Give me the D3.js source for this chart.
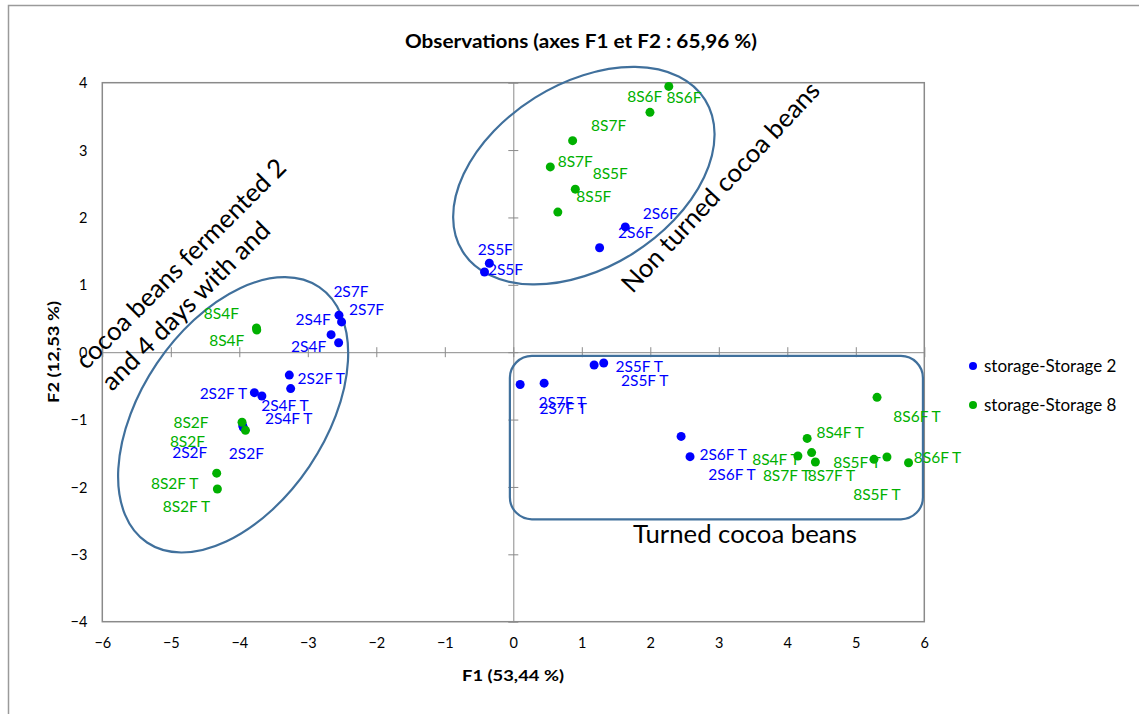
<!DOCTYPE html>
<html>
<head>
<meta charset="utf-8">
<script src="https://cdn.jsdelivr.net/npm/d3@7"></script>
<style>
  body { margin: 0; background: #fff; }
  svg { display: block; }
  text { font-family: Lato, "Liberation Sans", sans-serif; }
</style>
</head>
<body>
<svg id="chart" width="1139" height="714"></svg>
<script>
// ---- data ----
const xTicks = [-6, -5, -4, -3, -2, -1, 0, 1, 2, 3, 4, 5, 6];
const yTicks = [-4, -3, -2, -1, 0, 1, 2, 3, 4];
const seriesNames = ["storage-Storage 2", "storage-Storage 8"];

const storage2Labels = ["2S7F","2S7F","2S4F","2S4F","2S2F T","2S2F T","2S4F T","2S4F T","2S2F","2S2F",
  "2S5F","2S5F","2S6F","2S6F","2S5F T","2S5F T","2S7F T","2S7F T","2S6F T","2S6F T"];
const storage2F1 = [-2.545,-2.507,-2.66,-2.55,-3.27,-3.78,-3.67,-3.25,-3.94,-3.95,
  -0.35,-0.42,1.635,1.26,1.18,1.32,0.10,0.45,2.45,2.58];
const storage2F2 = [0.55,0.45,0.26,0.14,-0.34,-0.60,-0.65,-0.54,-1.12,-1.09,
  1.32,1.19,1.86,1.55,-0.19,-0.16,-0.48,-0.46,-1.25,-1.55];

const storage8Labels = ["8S4F","8S4F","8S2F","8S2F","8S2F T","8S2F T","8S6F","8S6F","8S7F","8S7F",
  "8S5F","8S5F","8S6F T","8S6F T","8S4F T","8S4F T","8S7F T","8S7F T","8S5F T","8S5F T"];
const storage8F1 = [-3.75,-3.745,-3.96,-3.91,-4.33,-4.32,2.27,1.995,0.866,0.54,
  0.905,0.65,5.31,5.77,4.29,4.155,4.355,4.41,5.265,5.455];
const storage8F2 = [0.36,0.33,-1.04,-1.16,-1.795,-2.03,3.945,3.56,3.14,2.75,
  2.42,2.08,-0.67,-1.64,-1.28,-1.54,-1.49,-1.63,-1.59,-1.555];

// ---- layout (label offsets in px, not data) ----
const offsets2 = [[12,-24],[25,-12],[-18,-15],[-30,4],[32,3],[-31,1],[23,10],[-2,30],[3,26],[-53,27],
  [6,-14],[21,-2],[35,-13],[36,-15],[45,2],[41,18],[42,18],[19,25],[42,18],[42,18]];
const offsets8 = [[-35,-14],[-30,11],[-51,0],[-58,11],[-42,10],[-31,18],[-24,10],[34,-15],[36,-15],[25,-5],
  [35,-16],[36,-15],[40,19],[29,-5],[33,-6],[-22,4],[-25,23],[16,14],[-17,3],[-10,38]];

const colors = ["#0000ff", "#00b000"];
const shapeStroke = "#40709c";
const axisGray = "#8a8a8a";

const svg = d3.select("#chart");

// outer chart border
svg.append("rect").attr("x", 8.5).attr("y", 5.5).attr("width", 1200).attr("height", 800)
  .attr("fill", "none").attr("stroke", "#9a9a9a").attr("stroke-width", 1.5);

const x = d3.scaleLinear().domain([-6, 6]).range([102.3, 924.3]);
const y = d3.scaleLinear().domain([-4, 4]).range([621.7, 82.7]);

// plot border
svg.append("rect").attr("x", x(-6)).attr("y", y(4)).attr("width", x(6) - x(-6)).attr("height", y(-4) - y(4))
  .attr("fill", "none").attr("stroke", axisGray).attr("stroke-width", 1.5);

// zero axes with ticks
const gx = svg.append("g").attr("transform", `translate(0,${y(0)})`)
  .call(d3.axisBottom(x).tickValues(xTicks).tickSizeInner(10).tickSizeOuter(0).tickFormat(""));
gx.selectAll(".tick line").attr("transform", "translate(0,-5)");
const gy = svg.append("g").attr("transform", `translate(${x(0)},0)`)
  .call(d3.axisLeft(y).tickValues(yTicks).tickSizeInner(10).tickSizeOuter(0).tickFormat(""));
gy.selectAll(".tick line").attr("transform", "translate(5,0)");
[gx, gy].forEach(g => {
  g.select(".domain").attr("stroke", axisGray).attr("stroke-width", 1);
  g.selectAll(".tick line").attr("stroke", axisGray).attr("stroke-width", 1);
});

// tick labels on the plot frame
const gxl = svg.append("g").attr("transform", `translate(0,${y(-4)})`)
  .call(d3.axisBottom(x).tickValues(xTicks).tickSize(0).tickPadding(23).tickFormat(d3.format("d")));
gxl.select(".domain").remove();
const gyl = svg.append("g").attr("transform", `translate(${x(-6)},0)`)
  .call(d3.axisLeft(y).tickValues(yTicks).tickSize(0).tickPadding(15).tickFormat(d3.format("d")));
gyl.select(".domain").remove();
[gxl, gyl].forEach(g => g.selectAll("text")
  .attr("font-family", "Lato, 'Liberation Sans', sans-serif").attr("font-size", 14.5).attr("fill", "#000"));
gxl.selectAll("text").attr("dy", "0.2em");
gyl.selectAll("text").attr("dy", "0.35em");

// titles
svg.append("text").attr("x", 581).attr("y", 48).attr("text-anchor", "middle")
  .attr("font-size", 18).attr("font-weight", "bold").attr("textLength", 352).attr("lengthAdjust", "spacingAndGlyphs")
  .text("Observations (axes F1 et F2 : 65,96 %)");
svg.append("text").attr("x", 513).attr("y", 681).attr("text-anchor", "middle")
  .attr("font-size", 16).attr("font-weight", "bold").attr("textLength", 102).attr("lengthAdjust", "spacingAndGlyphs")
  .text("F1 (53,44 %)");
svg.append("text").attr("transform", "translate(59,352) rotate(-90)").attr("text-anchor", "middle")
  .attr("font-size", 16).attr("font-weight", "bold").attr("textLength", 102).attr("lengthAdjust", "spacingAndGlyphs")
  .text("F2 (12,53 %)");

// annotation shapes
svg.append("ellipse").attr("cx", x(-4.09)).attr("cy", y(-0.93)).attr("rx", 154).attr("ry", 92)
  .attr("transform", `rotate(-56,${x(-4.09)},${y(-0.93)})`)
  .attr("fill", "none").attr("stroke", shapeStroke).attr("stroke-width", 2.2);
svg.append("ellipse").attr("cx", x(1.03)).attr("cy", y(2.62)).attr("rx", 143).attr("ry", 92)
  .attr("transform", `rotate(-32,${x(1.03)},${y(2.62)})`)
  .attr("fill", "none").attr("stroke", shapeStroke).attr("stroke-width", 2.2);
svg.append("rect").attr("x", x(-0.05)).attr("y", y(-0.055)).attr("width", x(5.98) - x(-0.05))
  .attr("height", y(-2.48) - y(-0.055)).attr("rx", 22).attr("ry", 22)
  .attr("fill", "none").attr("stroke", shapeStroke).attr("stroke-width", 2.2);

// annotation texts
function rotText(cx, cy, ang, len, s) {
  svg.append("text").attr("transform", `translate(${cx},${cy}) rotate(${ang})`)
    .attr("text-anchor", "middle").attr("font-size", 25.5).attr("fill", "#000")
    .attr("textLength", len).attr("lengthAdjust", "spacingAndGlyphs").text(s);
}
rotText(187, 270, -45, 285, "cocoa beans fermented 2");
rotText(192, 312, -45, 226, "and 4 days with and");
rotText(727, 193, -47, 277, "Non turned cocoa beans");
rotText(745, 543, 0, 224, "Turned cocoa beans");

// series
const series = [
  {labels: storage2Labels, f1: storage2F1, f2: storage2F2, off: offsets2, color: colors[0]},
  {labels: storage8Labels, f1: storage8F1, f2: storage8F2, off: offsets8, color: colors[1]}
];
series.forEach(s => {
  const pts = s.labels.map((l, i) => ({label: l, f1: s.f1[i], f2: s.f2[i], off: s.off[i]}));
  const g = svg.append("g");
  g.selectAll("circle").data(pts).join("circle")
    .attr("cx", d => x(d.f1)).attr("cy", d => y(d.f2)).attr("r", 4.5).attr("fill", s.color);
  g.selectAll("text").data(pts).join("text")
    .attr("x", d => x(d.f1) + d.off[0]).attr("y", d => y(d.f2) + d.off[1])
    .attr("text-anchor", "middle").attr("dy", "0.35em")
    .attr("font-size", 15.5).attr("fill", s.color).text(d => d.label);
});

// legend
const legend = svg.append("g");
seriesNames.forEach((n, i) => {
  const ly = 366 + i * 39;
  legend.append("circle").attr("cx", 973).attr("cy", ly).attr("r", 4).attr("fill", colors[i]);
  legend.append("text").attr("x", 984).attr("y", ly).attr("dy", "0.35em")
    .attr("font-size", 17).attr("fill", "#000").text(n);
});
</script>
</body>
</html>
